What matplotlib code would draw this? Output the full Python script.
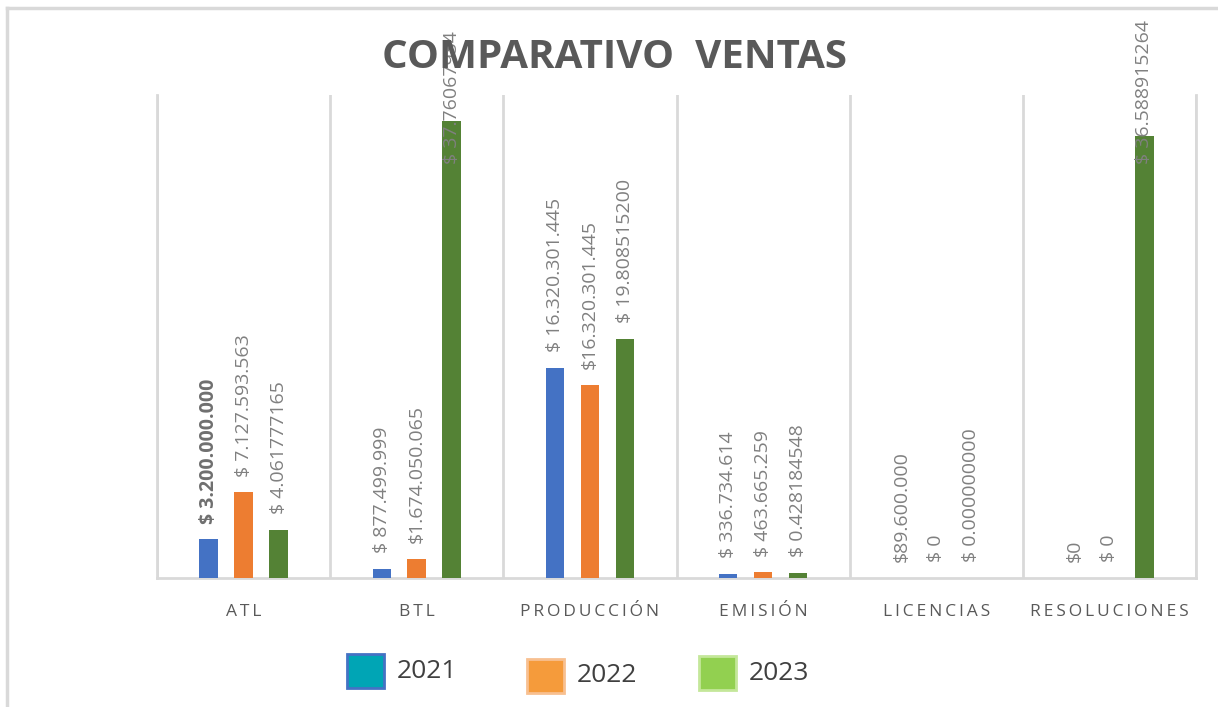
import matplotlib
matplotlib.use("Agg")
import matplotlib.pyplot as plt
from matplotlib.patches import Rectangle
from matplotlib.lines import Line2D
import numpy as np

plt.rcParams['font.family'] = ['Open Sans', 'DejaVu Sans']

categories = ['ATL', 'BTL', 'PRODUCCIÓN', 'EMISIÓN', 'LICENCIAS', 'RESOLUCIONES']
years = ['2021', '2022', '2023']

# values in thousands of millions of pesos
v2021 = [3.2, 0.78, 17.4, 0.34, 0.0, 0.0]
v2022 = [7.1, 1.6, 16.0, 0.46, 0.0, 0.0]
v2023 = [4.0, 37.85, 19.8, 0.43, 0.0, 36.6]

lab2021 = ['$ 3.200.000.000', '$ 877.499.999', '$ 16.320.301.445',
           '$ 336.734.614', '$89.600.000', '$0']
lab2022 = ['$ 7.127.593.563', '$1.674.050.065', '$16.320.301.445',
           '$ 463.665.259', '$ 0', '$ 0']
lab2023 = ['$ 4.061777165', '$ 37.76067934', '$ 19.808515200',
           '$ 0.428184548', '$ 0.000000000', '$ 36.588915264']

bar_colors = ['#4472C4', '#ED7D31', '#548235']
legend_face = ['#00A5B5', '#F59B3B', '#92D050']
legend_edge = ['#4472C4', '#F8C090', '#C4E79A']
grid_col = '#D9D9D9'
text_col = '#808080'

fig = plt.figure(figsize=(12.18, 7.07), dpi=100)
ax = fig.add_axes([157 / 1218, 1 - 578 / 707, (1196 - 157) / 1218, (578 - 95) / 707])

x = np.arange(len(categories))
offsets = [-0.202, 0.0, 0.202]
width = 0.107
series = [v2021, v2022, v2023]
labels = [lab2021, lab2022, lab2023]

for i in range(3):
    ax.bar(x + offsets[i], series[i], width=width, color=bar_colors[i], zorder=3)
    for j, (v, t) in enumerate(zip(series[i], labels[i])):
        y = min(v + 1.3, 34.3)
        bold = (i == 0 and j == 0)
        ax.text(x[j] + offsets[i], y, t, rotation=90, ha='center', va='bottom',
                fontsize=14, color='#6f6f6f' if bold else text_col,
                fontweight='bold' if bold else 'normal', zorder=4, clip_on=False)

ax.set_xlim(-0.5, len(categories) - 0.5)
ax.set_ylim(0, 40)
ax.set_yticks([])
ax.set_xticks(x)
spaced = ['\u2009'.join(c) for c in categories]
ax.set_xticklabels(spaced, fontsize=12.5, color='#595959')
ax.tick_params(axis='x', length=0, pad=19)
ax.set_xticks(np.arange(len(categories) + 1) - 0.5, minor=True)
ax.tick_params(axis='x', which='minor', length=0)
ax.grid(True, which='minor', axis='x', color=grid_col, linewidth=2, zorder=0)
ax.spines['top'].set_visible(False)
for s in ['left', 'right', 'bottom']:
    ax.spines[s].set_color(grid_col)
    ax.spines[s].set_linewidth(2)

# chart frame (top and left edges)
fig.add_artist(Line2D([7 / 1218, 7 / 1218], [0, 1 - 8 / 707], color=grid_col, lw=2.5))
fig.add_artist(Line2D([7 / 1218, 1], [1 - 8 / 707, 1 - 8 / 707], color=grid_col, lw=2.5))

fig.text(614 / 1218, 1 - 57 / 707, 'COMPARATIVO  VENTAS', ha='center', va='center',
         fontsize=29, fontweight='bold', color='#595959', zorder=10)

# legend, entries drawn individually (they sit at slightly different heights)
leg_x = [347, 527, 699]
leg_y = [671, 676, 673]
for k in range(3):
    x0 = leg_x[k] / 1218
    yc = 1 - leg_y[k] / 707
    fig.add_artist(Rectangle((x0, yc - 17 / 707), 37 / 1218, 34 / 707,
                             transform=fig.transFigure, facecolor=legend_face[k],
                             edgecolor=legend_edge[k], linewidth=2))
    fig.text(x0 + 50 / 1218, yc, years[k], ha='left', va='center', fontsize=19,
             color='#404040')

fig.savefig('out.png', dpi=100)
